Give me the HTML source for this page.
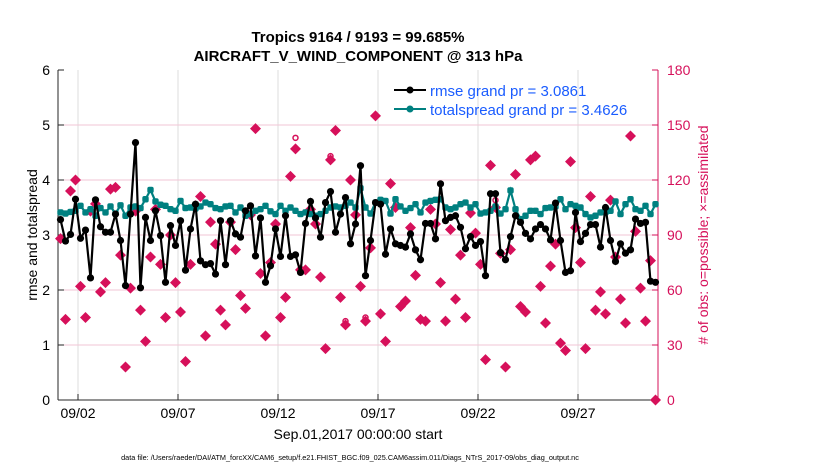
<!DOCTYPE html>
<html><head><meta charset="utf-8">
<style>
body{margin:0;background:#fff;}
svg{display:block;font-family:"Liberation Sans",sans-serif;}
</style></head>
<body>
<svg id="chart" width="830" height="470" viewBox="0 0 830 470" xmlns="http://www.w3.org/2000/svg">
<text x="358" y="42" text-anchor="middle" font-size="15" font-weight="bold">Tropics 9164 / 9193 = 99.685%</text>
<text x="358" y="61" text-anchor="middle" font-size="15" font-weight="bold">AIRCRAFT_V_WIND_COMPONENT @ 313 hPa</text>
<g id="grid"></g>
<g id="axes"></g>
<g id="marks"></g>
<g id="legend">
<line x1="394" y1="90" x2="426" y2="90" stroke="#000" stroke-width="2"/>
<circle cx="410" cy="90" r="3.5" fill="#000"/>
<text x="430" y="96" font-size="15" fill="#1a5cff">rmse grand pr = 3.0861</text>
<line x1="394" y1="109" x2="426" y2="109" stroke="#008080" stroke-width="2"/>
<circle cx="410" cy="109" r="3.5" fill="#008080"/>
<text x="430" y="115" font-size="15" fill="#1a5cff">totalspread grand pr = 3.4626</text>
</g>
<text transform="translate(37,235) rotate(-90)" text-anchor="middle" font-size="14">rmse and totalspread</text>
<text transform="translate(708,235) rotate(-90)" text-anchor="middle" font-size="14" fill="#d6105a"># of obs: o=possible; ×=assimilated</text>
<text x="358" y="439" text-anchor="middle" font-size="14">Sep.01,2017 00:00:00 start</text>
<text x="350" y="460" text-anchor="middle" font-size="7.3">data file: /Users/raeder/DAI/ATM_forcXX/CAM6_setup/f.e21.FHIST_BGC.f09_025.CAM6assim.011/Diags_NTrS_2017-09/obs_diag_output.nc</text>
</svg>
<script>
const rmse=[3.28,2.89,3.01,3.65,2.94,3.09,2.22,3.64,3.15,3.05,3.05,3.38,2.9,2.08,3.38,4.68,2.04,3.32,2.9,3.44,2.99,2.14,3.17,2.81,3.26,2.36,3.11,3.56,2.53,2.46,
2.48,2.29,3.26,2.46,3.26,3.02,2.96,3.44,3.53,2.62,3.31,2.14,2.44,3.11,2.61,3.35,2.61,2.64,2.32,3.21,3.61,3.31,2.96,3.59,3.79,3.05,3.38,3.68,2.84,3.2,
4.26,2.26,2.9,3.59,3.56,2.65,3.11,2.84,2.81,2.78,3.02,2.73,2.55,3.21,3.21,2.93,3.93,3.26,3.32,3.35,3.14,2.75,2.97,2.81,2.88,2.26,3.75,3.75,2.68,2.55,
2.97,3.35,3.23,3.03,2.93,3.11,3.19,3.11,2.91,3.58,2.9,2.32,2.35,3.41,2.88,3.03,3.19,3.19,2.78,3.5,2.9,2.52,2.84,2.67,2.73,3.29,3.21,3.23,2.16,2.14];
const spread=[3.41,3.39,3.42,3.44,3.53,3.41,3.47,3.35,3.49,3.41,3.52,3.39,3.54,3.35,3.5,3.52,3.49,3.65,3.82,3.61,3.55,3.53,3.47,3.44,3.62,3.49,3.5,3.48,3.52,3.59,
3.56,3.49,3.47,3.52,3.53,3.41,3.5,3.35,3.38,3.44,3.47,3.53,3.43,3.38,3.53,3.44,3.5,3.44,3.38,3.41,3.38,3.35,3.38,3.44,3.5,3.52,3.5,3.53,3.59,3.5,
3.85,3.5,3.39,3.59,3.64,3.62,3.39,3.65,3.52,3.44,3.49,3.56,3.41,3.59,3.62,3.64,3.65,3.5,3.47,3.5,3.56,3.59,3.5,3.56,3.39,3.41,3.44,3.52,3.39,3.47,
3.81,3.47,3.29,3.35,3.44,3.44,3.38,3.49,3.5,3.52,3.65,3.47,3.56,3.53,3.5,3.38,3.32,3.35,3.41,3.41,3.44,3.61,3.38,3.56,3.65,3.47,3.44,3.53,3.38,3.56];
const nUsed=[88,44,114,120,62,45,103,107,59,64,115,116,79,18,61,103,49,32,78,104,74,45,90,64,48,21,74,106,111,35,
97,85,49,41,97,82,57,50,101,148,69,35,75,96,45,56,122,137,71,71,104,96,67,28,131,147,56,41,120,101,
62,43,83,155,47,32,118,105,51,54,94,68,44,43,104,96,64,43,93,55,79,45,102,91,74,22,128,105,80,18,
82,123,51,48,131,133,62,42,73,85,31,27,130,94,75,28,111,49,59,47,109,78,55,42,144,92,61,43,76,0];
const nPoss=nUsed.slice();
nPoss[15]=104;nPoss[47]=143;nPoss[54]=133;nPoss[57]=43;nPoss[61]=45;nPoss[87]=109;
const leftTicks=[0,1,2,3,4,5,6];
const rightTicks=[0,30,60,90,120,150,180];
const dateTicks=[1,6,11,16,21,26];
const dateLabels=["09/02","09/07","09/12","09/17","09/22","09/27"];

const L=58,R=658,T=70,B=400,NS="http://www.w3.org/2000/svg";
const xS=d=>L+(d/30)*(R-L);
const yL=v=>B-(v/6)*(B-T);
const yR=v=>B-(v/180)*(B-T);
const tDay=i=>0.125+i*0.25;
function mk(tag,attrs,parent,text){const e=document.createElementNS(NS,tag);for(const k in attrs)e.setAttribute(k,attrs[k]);if(text!==undefined)e.textContent=text;parent.appendChild(e);return e;}
const grid=document.getElementById('grid'),axes=document.getElementById('axes'),marks=document.getElementById('marks');
mk('rect',{x:L,y:T,width:R-L,height:B-T,fill:'#fff'},grid);
dateTicks.forEach((d,i)=>{
 const g=mk('line',{x1:xS(d),x2:xS(d),y1:T,y2:B,stroke:'#dcdcdc','stroke-width':1},grid);
 
 
 mk('line',{x1:xS(d),x2:xS(d),y1:B,y2:B-6,stroke:'#262626'},axes);
 const t=mk('text',{x:xS(d),y:B+18,'text-anchor':'middle','font-size':14},axes,dateLabels[i]);
 
 
});
rightTicks.forEach(v=>{
 if(v>0&&v<180){const g=mk('line',{x1:L,x2:R,y1:yR(v),y2:yR(v),stroke:'#f2c6d6','stroke-width':1},grid);
 
 }
 mk('line',{x1:R,x2:R-6,y1:yR(v),y2:yR(v),stroke:'#d6105a'},axes);
 const t=mk('text',{x:R+9,y:yR(v)+5,'font-size':14,fill:'#d6105a'},axes,String(v));
 
 
});
leftTicks.forEach(v=>{
 mk('line',{x1:L,x2:L+6,y1:yL(v),y2:yL(v),stroke:'#262626'},axes);
 const t=mk('text',{x:L-8,y:yL(v)+5,'text-anchor':'end','font-size':14},axes,String(v));
 
 
});
mk('line',{x1:L,x2:L,y1:T,y2:B,stroke:'#262626'},axes);
mk('line',{x1:L,x2:R,y1:B,y2:B,stroke:'#262626'},axes);
mk('line',{x1:R,x2:R,y1:T,y2:B,stroke:'#d6105a'},axes);
nUsed.forEach((v,i)=>{
 const x=xS(tDay(i)),y=yR(v);
 const d=mk('path',{d:`M${x} ${y-5.5}L${x+5.5} ${y}L${x} ${y+5.5}L${x-5.5} ${y}Z`,fill:'#d6105a'},marks);
 
 
 if(nPoss[i]!==v){
  const c=mk('circle',{cx:x,cy:yR(nPoss[i]),r:2.5,fill:'none',stroke:'#d6105a','stroke-width':1.5},marks);
  
  
 }
});
function series(vals,color,name,sq){
 const p=mk('polyline',{points:vals.map((v,i)=>xS(tDay(i))+','+yL(v)).join(' '),fill:'none',stroke:color,'stroke-width':2.2},marks);
 
 
 vals.forEach((v,i)=>{
  const x=xS(tDay(i)),y=yL(v);
  const m=sq?mk('rect',{x:x-3.2,y:y-3.2,width:6.4,height:6.4,rx:2,fill:color},marks):mk('circle',{cx:x,cy:y,r:3.6,fill:color},marks);
  
  
 });
}
series(spread,'#008080','totalspread',true);
series(rmse,'#000000','rmse',false);
</script>
</body></html>
